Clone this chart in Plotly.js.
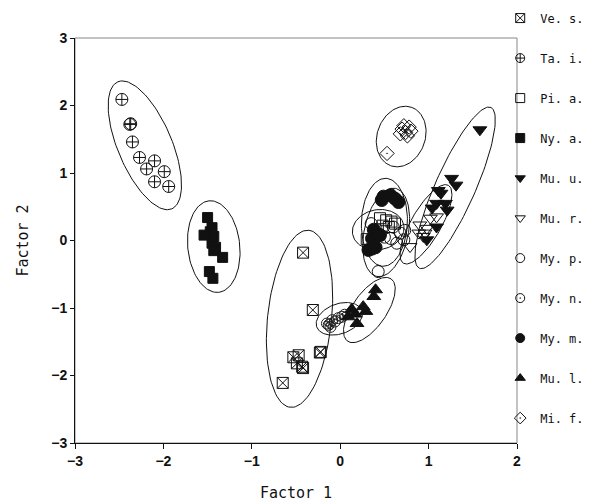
<!DOCTYPE html>
<html><head><meta charset="utf-8">
<script src="https://cdn.plot.ly/plotly-3.0.1.min.js"></script>
<style>body{margin:0;background:#fff}#chart{width:604px;height:503px}</style>
</head><body><div id="chart"></div>
<script>
// ---- data ----
const species = ["Ve. s.","Ta. i.","Pi. a.","Ny. a.","Mu. u.","Mu. r.","My. p.","My. n.","My. m.","Mu. l.","Mi. f."];
const vesX = [-0.42,-0.31,-0.23,-0.22,-0.53,-0.47,-0.49,-0.43,-0.42,-0.65];
const vesY = [-0.18,-1.03,-1.66,-1.65,-1.73,-1.70,-1.82,-1.87,-1.89,-2.11];
const taiX = [-2.47,-2.38,-2.37,-2.35,-2.27,-2.10,-2.19,-1.99,-2.10,-1.94];
const taiY = [2.09,1.72,1.73,1.46,1.23,1.18,1.06,1.02,0.87,0.80];
const piaX = [0.45,0.52,0.58,0.48,0.55,0.30,0.62,0.40];
const piaY = [0.33,0.30,0.28,0.22,0.20,0.02,0.25,0.15];
const nyaX = [-1.50,-1.47,-1.45,-1.54,-1.43,-1.45,-1.41,-1.43,-1.33,-1.48,-1.44];
const nyaY = [0.34,0.13,0.19,0.08,0.06,-0.04,-0.10,-0.15,-0.25,-0.46,-0.56];
const muuX = [1.58,1.26,1.31,1.11,1.14,1.09,1.19,1.04,1.21,1.09,0.98];
const muuY = [1.64,0.92,0.82,0.74,0.70,0.55,0.55,0.48,0.45,0.20,0.01];
const murX = [0.79,0.98,0.90,1.02,1.09,0.89,0.96,0.94];
const murY = [-0.09,0.18,0.23,0.33,0.35,0.11,0.11,0.06];
const mypX = [0.43,0.60,0.68,0.64,0.72,0.57,0.73,0.35,0.50];
const mypY = [-0.46,0.20,0.11,-0.04,0.01,0.03,0.15,0.25,0.05];
const mynX = [-0.15,-0.09,-0.02,0.02,-0.11,-0.06,-0.13,0.05];
const mynY = [-1.23,-1.18,-1.15,-1.13,-1.28,-1.20,-1.25,-1.10];
const mymX = [0.49,0.57,0.66,0.47,0.38,0.36,0.41,0.36,0.32,0.40,0.45,0.62];
const mymY = [0.65,0.67,0.57,0.60,0.16,0.03,0.06,-0.12,-0.14,-0.10,0.08,0.62];
const mulX = [0.40,0.38,0.26,0.29,0.17,0.13,0.19,0.09];
const mulY = [-0.73,-0.83,-0.98,-1.05,-1.09,-1.02,-1.23,-1.13];
const mifX = [0.53,0.70,0.74,0.78,0.76,0.72,0.80,0.68];
const mifY = [1.29,1.65,1.60,1.68,1.55,1.70,1.62,1.58];
// ellipse (group) centres in data units; semi-axes in screen px; rotation in degrees
const ellCx = [-0.46,-2.21,0.43,-1.43,1.30,0.97,0.52,-0.01,0.50,0.33,0.69];
const ellCy = [-1.16,1.41,0.16,-0.09,0.78,0.24,0.12,-1.16,0.27,-1.03,1.54];
const ellA  = [89,69,26,46,88,45,45,24,44,38,31];
const ellB  = [32,27,20,26,20,15,22,15,23,17,24];
const ellAng= [84,113,10,96,66,60,78,20,88,55,70];
const xTicks = [-3,-2,-1,0,1,2];
const yTicks = [-3,-2,-1,0,1,2,3];

// ---- layout geometry ----
const W=604,H=503,ML=75,MR=87,MT=38,MB=60;
const xr=[-3,2], yr=[-3,3];
const pxX=(W-ML-MR)/(xr[1]-xr[0]), pxY=(H-MT-MB)/(yr[1]-yr[0]);

const symbols = ["square-x-open","circle-cross-open","square-open","square","triangle-down","triangle-down-open","circle-open","circle-open-dot","circle","triangle-up","diamond-open-dot"];
const sizes = [11,12,11,10,12,12,12,11,13,12,11];
const xs=[vesX,taiX,piaX,nyaX,muuX,murX,mypX,mynX,mymX,mulX,mifX];
const ys=[vesY,taiY,piaY,nyaY,muuY,murY,mypY,mynY,mymY,mulY,mifY];

const traces=[];
for(let i=0;i<ellCx.length;i++){
  const ex=[],ey=[];const th=ellAng[i]*Math.PI/180;
  for(let k=0;k<=120;k++){const t=2*Math.PI*k/120;
    const dx=ellA[i]*Math.cos(t)*Math.cos(th)-ellB[i]*Math.sin(t)*Math.sin(th);
    const dy=ellA[i]*Math.cos(t)*Math.sin(th)+ellB[i]*Math.sin(t)*Math.cos(th);
    ex.push(ellCx[i]+dx/pxX); ey.push(ellCy[i]+dy/pxY);}
  traces.push({x:ex,y:ey,mode:'lines',line:{color:'#111',width:1},showlegend:false,hoverinfo:'skip'});
}
for(let i=0;i<species.length;i++){
  if(i===7){
    traces.push({x:xs[i],y:ys[i],mode:'markers',showlegend:false,marker:{symbol:'circle-open',size:11,color:'#222',line:{width:1}}});
    traces.push({x:xs[i],y:ys[i],mode:'markers',showlegend:false,marker:{symbol:'circle-open',size:5,color:'#222',line:{width:1}}});
  } else {
    traces.push({x:xs[i],y:ys[i],mode:'markers',showlegend:false,
      marker:{symbol:symbols[i],size:sizes[i],color:'#111',line:{width:1,color:'#111'}}});
  }
}
for(let i=0;i<species.length;i++){
  traces.push({x:[null],y:[null],mode:'markers',name:species[i],legendgroup:'g'+i,
    marker:{symbol:symbols[i],size:9,color:'#111',line:{width:1,color:'#111'}}});
}

const layout={
  width:W,height:H,margin:{l:ML,r:MR,t:MT,b:MB,autoexpand:false},
  paper_bgcolor:'#fff',plot_bgcolor:'#fff',
  font:{family:'Liberation Sans, Arial, sans-serif',color:'#111'},
  xaxis:{range:xr,tickvals:xTicks,ticktext:xTicks.map(v=>v<0?'\u2212'+(-v):String(v)),automargin:false,
    showgrid:false,zeroline:false,showline:true,linecolor:'#111',linewidth:1,
    ticks:'outside',ticklen:5,tickcolor:'#111',
    tickfont:{family:'Liberation Sans, Arial, sans-serif',size:14,weight:'bold'},
    title:{text:'Factor 1',standoff:19,font:{family:'DejaVu Sans Mono, monospace',size:15}}},
  yaxis:{range:yr,tickvals:yTicks,ticktext:yTicks.map(v=>v<0?'\u2212'+(-v):String(v)),automargin:false,
    showgrid:false,zeroline:false,showline:true,linecolor:'#111',linewidth:1,
    ticks:'outside',ticklen:4,tickcolor:'#111',
    tickfont:{family:'Liberation Sans, Arial, sans-serif',size:14,weight:'bold'},
    title:{text:'Factor 2',standoff:18,font:{family:'DejaVu Sans Mono, monospace',size:15}}},
  shapes:[{type:'rect',xref:'paper',yref:'paper',x0:0,x1:1,y0:0,y1:1,line:{color:'#888',width:1},layer:'below'}],
  showlegend:true,
  legend:{x:0.962,xanchor:'left',y:1.085,yanchor:'top',traceorder:'grouped',tracegroupgap:21,maxheight:1,
    bgcolor:'rgba(0,0,0,0)',font:{family:'DejaVu Sans Mono, monospace',size:12},itemsizing:'trace'}
};
Plotly.newPlot('chart',traces,layout,{staticPlot:true});
</script></body></html>
